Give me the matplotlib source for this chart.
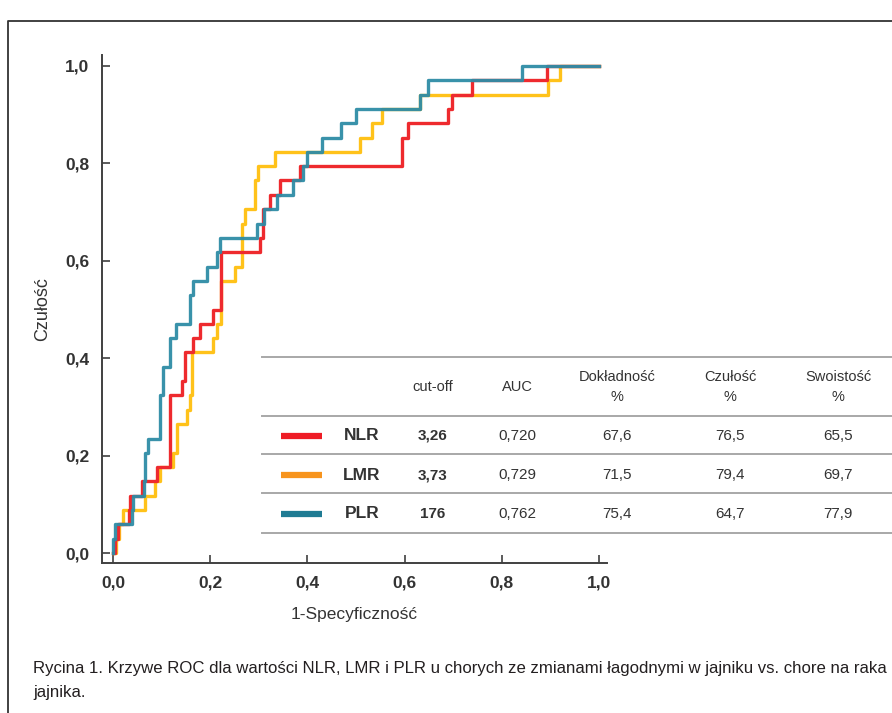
import matplotlib.pyplot as plt
from matplotlib.ticker import FixedLocator

# ROC staircase vertices: (1-specificity where the jump happens, sensitivity after the jump)
nlr_fpr = [0.0, 0.004, 0.010, 0.033, 0.035, 0.060, 0.090, 0.118, 0.142, 0.148, 0.165, 0.180,
           0.206, 0.222, 0.302, 0.308, 0.323, 0.344, 0.385, 0.595, 0.607, 0.689, 0.698, 0.739,
           0.893, 1.0]
nlr_tpr = [0.0, 0.029, 0.059, 0.088, 0.118, 0.147, 0.177, 0.324, 0.353, 0.412, 0.441, 0.471,
           0.500, 0.618, 0.647, 0.706, 0.735, 0.765, 0.794, 0.853, 0.882, 0.912, 0.941, 0.971,
           1.0, 1.0]

lmr_fpr = [0.0, 0.006, 0.012, 0.020, 0.066, 0.086, 0.097, 0.123, 0.132, 0.152, 0.158, 0.163,
           0.206, 0.214, 0.222, 0.250, 0.265, 0.271, 0.292, 0.298, 0.333, 0.508, 0.533, 0.553,
           0.632, 0.895, 0.920, 1.0]
lmr_tpr = [0.0, 0.029, 0.059, 0.088, 0.118, 0.147, 0.177, 0.206, 0.265, 0.294, 0.324, 0.412,
           0.441, 0.471, 0.559, 0.588, 0.676, 0.706, 0.765, 0.794, 0.824, 0.853, 0.882, 0.912,
           0.941, 0.971, 1.0, 1.0]

plr_fpr = [0.0, 0.0, 0.004, 0.039, 0.041, 0.064, 0.066, 0.072, 0.097, 0.103, 0.117, 0.130,
           0.158, 0.165, 0.193, 0.214, 0.221, 0.296, 0.310, 0.337, 0.370, 0.390, 0.400, 0.430,
           0.470, 0.500, 0.632, 0.648, 0.842, 1.0]
plr_tpr = [0.0, 0.029, 0.059, 0.088, 0.118, 0.147, 0.206, 0.235, 0.324, 0.382, 0.441, 0.471,
           0.529, 0.559, 0.588, 0.618, 0.647, 0.676, 0.706, 0.735, 0.765, 0.794, 0.824, 0.853,
           0.882, 0.912, 0.941, 0.971, 1.0, 1.0]

ticks = [0.0, 0.2, 0.4, 0.6, 0.8, 1.0]
tick_labels = ["0,0", "0,2", "0,4", "0,6", "0,8", "1,0"]

# table next to the curves
models = ["NLR", "LMR", "PLR"]
cutoffs = ["3,26", "3,73", "176"]
aucs = ["0,720", "0,729", "0,762"]
accuracy = ["67,6", "71,5", "75,4"]
sensitivity = ["76,5", "79,4", "64,7"]
specificity = ["65,5", "69,7", "77,9"]
headers = ["cut-off", "AUC", "Dokładność\n%", "Czułość\n%", "Swoistość\n%"]

caption_1 = ("Rycina 1. Krzywe ROC dla wartości NLR, LMR i PLR u chorych ze zmianami "
             "łagodnymi w jajniku vs. chore na raka")
caption_2 = "jajnika."

curve_colors = ["#EE2A2E", "#FFC21A", "#2E8CA6"]
legend_colors = ["#EE1C25", "#F7941D", "#1F7B93"]

plt.rcParams["font.family"] = ["Liberation Sans Narrow", "Liberation Sans", "DejaVu Sans"]

W, H = 892, 713
fig = plt.figure(figsize=(W / 100, H / 100), dpi=100)

# pixel helper for placing the plot area
def box(x0, y0, x1, y1):
    return [x0 / W, 1 - y1 / H, (x1 - x0) / W, (y1 - y0) / H]

ax = fig.add_axes(box(102, 55, 607, 563))
ax.plot(lmr_fpr, lmr_tpr, drawstyle="steps-post", color=curve_colors[1], lw=2.4, zorder=2)
ax.plot(nlr_fpr, nlr_tpr, drawstyle="steps-post", color=curve_colors[0], lw=2.4, zorder=3)
ax.plot(plr_fpr, plr_tpr, drawstyle="steps-post", color=curve_colors[2], lw=2.4, zorder=4, alpha=0.95)

ax.set_xlim(-11 / 486, 1 + 8 / 486)
ax.set_ylim(-10 / 487, 1 + 11 / 487)
for s in ["top", "right"]:
    ax.spines[s].set_visible(False)
for s in ["left", "bottom"]:
    ax.spines[s].set_color("#404040")
    ax.spines[s].set_linewidth(1.4)
ax.xaxis.set_major_locator(FixedLocator(ticks))
ax.yaxis.set_major_locator(FixedLocator(ticks))
ax.set_xticklabels(tick_labels)
ax.set_yticklabels(tick_labels)
ax.tick_params(direction="in", length=6, width=1.2, color="#404040", labelsize=12.5,
               labelcolor="#333333", pad=9)
for lab in ax.get_xticklabels() + ax.get_yticklabels():
    lab.set_fontweight("bold")
ax.set_xlabel("1-Specyficzność", fontsize=12.5, color="#333333", labelpad=12)
ax.set_ylabel("Czułość", fontsize=13, color="#333333", labelpad=10)

# overlay in pixel coordinates for the table, frame and caption
ov = fig.add_axes([0, 0, 1, 1], zorder=5)
ov.set_xlim(0, W)
ov.set_ylim(H, 0)
ov.axis("off")
ov.patch.set_alpha(0)

ov.plot([W, 8, 8], [21, 21, H], color="#333333", lw=1.3)

for yl in [357, 416, 454, 493, 533]:
    ov.plot([262, W], [yl, yl], color="#A8A8A8", lw=1.4)

col_x = [433, 517, 617, 730, 838]
for cx, h in zip(col_x, headers):
    ov.text(cx, 387, h, ha="center", va="center", fontsize=10.5, color="#333333",
            linespacing=1.5)

row_y = [436, 475, 514]
for i, ry in enumerate(row_y):
    ov.plot([281, 322], [ry, ry], color=legend_colors[i], lw=4.5, solid_capstyle="butt")
    ov.text(362, ry, models[i], ha="center", va="center", fontsize=12.5,
            fontweight="bold", color="#333333")
    ov.text(col_x[0], ry, cutoffs[i], ha="center", va="center", fontsize=11,
            fontweight="bold", color="#333333")
    vals = [aucs[i], accuracy[i], sensitivity[i], specificity[i]]
    for cx, v in zip(col_x[1:], vals):
        ov.text(cx, ry, v, ha="center", va="center", fontsize=11, color="#333333")

cap1 = ov.text(33, 668, caption_1, ha="left", va="center", fontsize=12.5, color="#231F20")
cap2 = ov.text(33, 692, caption_2, ha="left", va="center", fontsize=12.5, color="#231F20")

# shrink the caption so the long line ends where the reference's does
renderer = fig.canvas.get_renderer()
width = cap1.get_window_extent(renderer).width
size = 12.5 * min(1.0, 854 / width)
cap1.set_fontsize(size)
cap2.set_fontsize(size)

fig.savefig("out.png", dpi=100)
